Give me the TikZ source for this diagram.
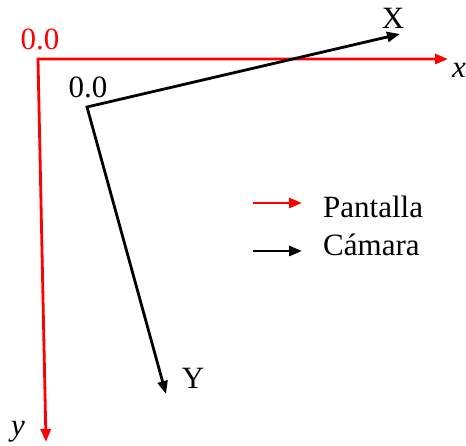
\documentclass[tikz,border=0pt]{standalone}
\usepackage{fontspec}
\setmainfont{Liberation Serif}
\usetikzlibrary{arrows.meta,positioning}

\begin{document}
\begin{tikzpicture}[x=1pt, y=-1pt,
  axis/.style={line width=2.8pt, {Triangle[length=13pt, width=10pt]}-{Triangle[length=13pt, width=10pt]}},
  key/.style={line width=2.8pt, -{Triangle[length=13pt, width=10pt]}},
  lbl/.style={font=\fontsize{31}{34}\selectfont, inner sep=0pt, anchor=base},
  >=Stealth]
\useasboundingbox (0,0) rectangle (466,445);
% screen frame
\coordinate (P0) at (38,59);
\coordinate (Px) at (448,59);
\coordinate (Py) at (46,442);
% camera frame
\coordinate (C0) at (87,107);
\coordinate (Cx) at (400,34);
\coordinate (Cy) at (166,394);
\draw[axis, red] (Py) -- (P0) -- (Px);
\draw[axis, black] (Cy) -- (C0) -- (Cx);
% labels
\node[lbl, red] (p0) at (40,49) {0.0};
\node[lbl] (c0) at (88,97) {0.0};
\node[lbl] (xl) at (459,77) {\itshape x};
\node[lbl] (yl) at (18,435) {\itshape y};
\node[lbl] (Xl) at (393,28) {X};
\node[lbl] (Yl) at (193,388) {Y};
% legend
\coordinate (r1) at (253,203);
\coordinate (r2) at (302,203);
\coordinate (k1) at (253,251);
\coordinate (k2) at (302,251);
\draw[key, red] (r1) -- (r2);
\draw[key, black] (k1) -- (k2);
\node[lbl, anchor=base west] (pant) at (323,217) {Pantalla};
\node[lbl, anchor=base west] (cam) at (323,255) {Cámara};
\end{tikzpicture}
\end{document}
